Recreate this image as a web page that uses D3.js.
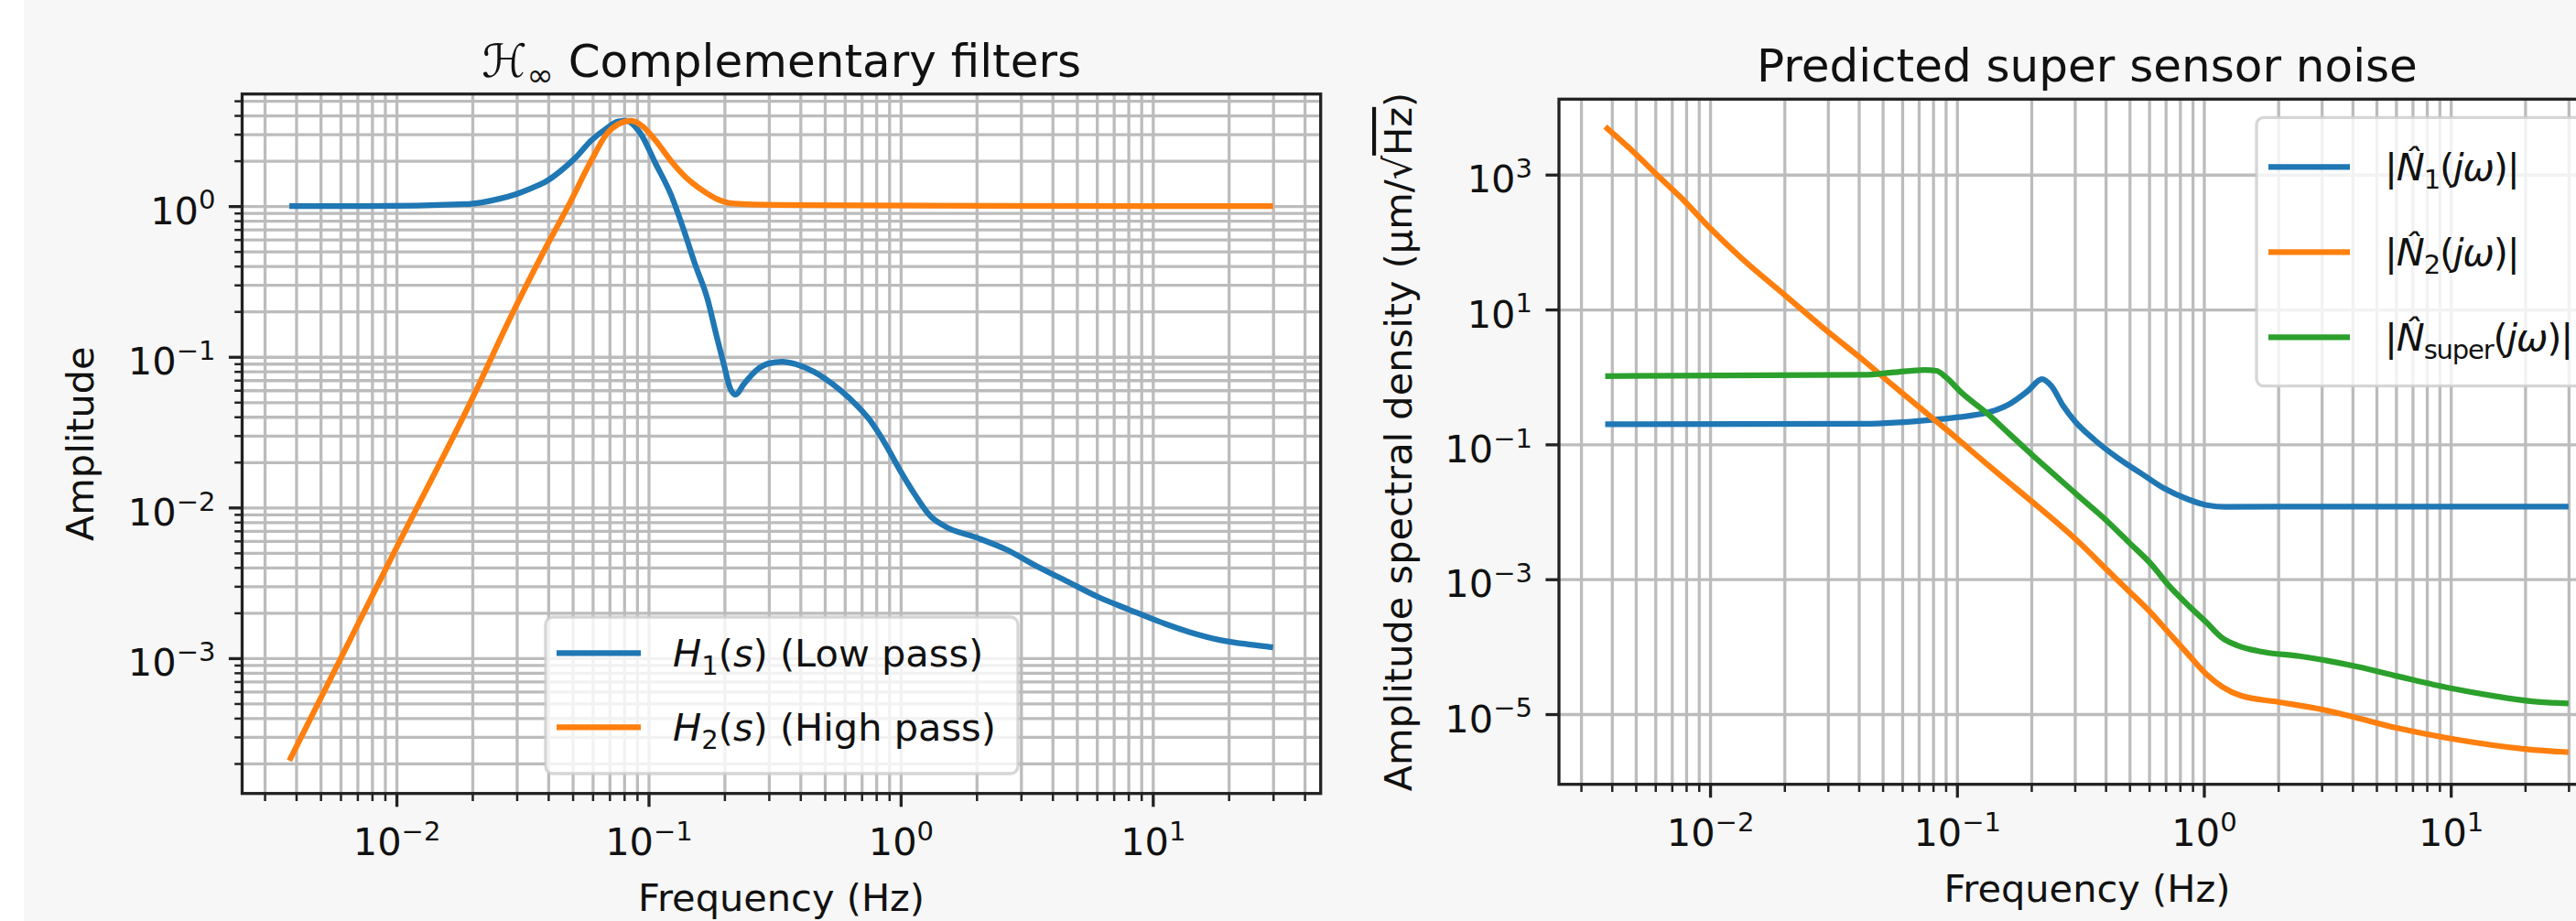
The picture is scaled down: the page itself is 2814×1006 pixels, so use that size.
<!DOCTYPE html>
<html>
<head>
<meta charset="utf-8">
<style>
  body { margin: 0; background: #ffffff; overflow: hidden; }
  svg { display: block; }
  text { font-family: "DejaVu Sans", sans-serif; }
</style>
</head>
<body>
<script src="https://d3js.org/d3.v7.min.js"></script>
<script>
// values (Hz / amplitude)
const FREQ_H1 = [0.00376, 0.00755, 0.0194, 0.0256, 0.0297, 0.0348, 0.0389, 0.0448, 0.0515, 0.0592, 0.0681, 0.0760, 0.0815, 0.0927, 0.1067, 0.1225, 0.1371, 0.1531, 0.171, 0.1858, 0.1995, 0.2109, 0.2213, 0.2388, 0.2673, 0.2985, 0.3388, 0.3837, 0.4539, 0.537, 0.634, 0.750, 0.861, 0.991, 1.138, 1.309, 1.503, 1.986, 2.624, 3.467, 4.592, 6.067, 8.0, 10.59, 14.0, 18.5, 24.4, 30];
const AMP_H1 = [1.0, 1.0, 1.033, 1.119, 1.199, 1.330, 1.445, 1.710, 2.109, 2.723, 3.281, 3.656, 3.690, 3.055, 1.914, 1.199, 0.716, 0.409, 0.244, 0.139, 0.0873, 0.0614, 0.0560, 0.0659, 0.0813, 0.0902, 0.0927, 0.0893, 0.0794, 0.0659, 0.0521, 0.0385, 0.0271, 0.0178, 0.0122, 0.00881, 0.00748, 0.00634, 0.00526, 0.00407, 0.00322, 0.00255, 0.00211, 0.00175, 0.00149, 0.00132, 0.00123, 0.00118];

const FREQ_H2 = [0.00376, 0.006, 0.01, 0.02, 0.0291, 0.0384, 0.048, 0.0592, 0.0681, 0.076, 0.0853, 0.0953, 0.1067, 0.1225, 0.1406, 0.1618, 0.1858, 0.2138, 0.246, 0.4295, 2.415, 30];
const AMP_H2 = [0.000209, 0.00099, 0.0054, 0.053, 0.2, 0.5, 1.0, 2.0, 3.0, 3.5, 3.69, 3.357, 2.723, 2.004, 1.552, 1.288, 1.119, 1.042, 1.028, 1.015, 1.005, 1.0];

const FREQ_N1 = [0.00376, 0.0417, 0.0809, 0.098, 0.113, 0.1355, 0.1622, 0.1941, 0.2208, 0.2415, 0.2692, 0.300, 0.3589, 0.4467, 0.5546, 0.6887, 0.855, 1.026, 1.227, 2.037, 30];
const AMP_N1 = [0.199, 0.2023, 0.2328, 0.250, 0.2661, 0.302, 0.3917, 0.6252, 0.93, 0.7311, 0.3724, 0.2208, 0.1183, 0.0632, 0.0375, 0.02234, 0.01549, 0.01256, 0.0118, 0.0119, 0.0119];

const FREQ_N2 = [0.00376, 0.00493, 0.00608, 0.00757, 0.01007, 0.01337, 0.02028, 0.03141, 0.0417, 0.05546, 0.0809, 0.098, 0.113, 0.173, 0.2014, 0.3055, 0.4083, 0.5012, 0.6138, 0.7145, 0.855, 1.026, 1.186, 1.419, 2.0, 3.013, 4.055, 6.039, 10, 20.28, 30];
const AMP_N2 = [5140, 2118, 1000, 467.7, 156.7, 58.21, 15.85, 4.083, 1.778, 0.7311, 0.2328, 0.1309, 0.0832, 0.0224, 0.01413, 0.003793, 0.00134, 0.000646, 0.000311, 0.0001667, 8.035e-5, 3.873e-5, 2.553e-5, 1.866e-5, 1.514e-5, 1.17e-5, 9.016e-6, 6.252e-6, 4.335e-6, 3.02e-6, 2.716e-6];

const FREQ_NS = [0.00376, 0.0417, 0.05546, 0.0738, 0.0826, 0.0900, 0.1038, 0.1327, 0.1622, 0.2014, 0.3055, 0.4083, 0.5012, 0.6138, 0.7145, 0.855, 1.026, 1.186, 1.368, 1.702, 2.443, 4.198, 6.039, 10, 14.89, 21.38, 30];
const AMP_NS = [1.030, 1.076, 1.169, 1.271, 1.233, 1.0, 0.5943, 0.2864, 0.1455, 0.07015, 0.01811, 0.0071, 0.00342, 0.00165, 0.000837, 0.000426, 0.0002275, 0.0001352, 0.0001042, 8.453e-5, 7.228e-5, 5.035e-5, 3.681e-5, 2.421e-5, 1.866e-5, 1.549e-5, 1.439e-5];

const FREQ_TICKS = [0.01, 0.1, 1, 10];
const AMP_TICKS_H = [0.001, 0.01, 0.1, 1];
const AMP_TICKS_N = [1e-5, 1e-3, 1e-1, 10, 1000];

const W = 2814, H = 1006;
const FS = 41.5, FS_TITLE = 50;
const INK = '#111', SPINE = '#222', GRID = '#bcbcbc';
const COLORS = ['#1f77b4', '#ff7f0e', '#2ca02c'];

const svg = d3.select('body').append('svg').attr('width', W).attr('height', H);
svg.append('rect').attr('x', 26).attr('width', W - 26).attr('height', H).attr('fill', '#f7f7f7');

// text with sub/superscripts, italics, overline
function richText(sel, tokens, fs) {
  let shift = 0;
  tokens.forEach(([t, k]) => {
    const target = k === 'sub' ? fs * 0.2 : k === 'sup' ? -fs * 0.39 : 0;
    const ts = sel.append('tspan').attr('dy', target - shift).text(t);
    shift = target;
    if (k === 'sub' || k === 'sup') ts.attr('font-size', fs * 0.7);
    if (k === 'i') ts.attr('font-style', 'italic');
    if (k === 'ov') ts.style('text-decoration', 'overline');
  });
}

function sciTokens(d) {
  const e = Math.round(Math.log10(d));
  return [['10', ''], [e < 0 ? '\u2212' + (-e) : String(e), 'sup']];
}

const isDecade = v => Math.abs(Math.log10(v) - Math.round(Math.log10(v))) < 1e-6;

function drawPanel(p) {
  const x = d3.scaleLog().domain(p.xDomain).range([p.left, p.right]);
  const y = d3.scaleLog().domain(p.yDomain).range([p.bottom, p.top]);
  const w = p.right - p.left, h = p.bottom - p.top;

  const xAll = x.ticks();
  const xMinor = xAll.filter(v => !isDecade(v));
  const yGrid = p.minorY ? y.ticks() : p.yTicks;
  const yMinor = p.minorY ? yGrid.filter(v => !isDecade(v)) : [];

  svg.append('rect').attr('x', p.left).attr('y', p.top).attr('width', w).attr('height', h).attr('fill', '#fff');

  // grid
  const gx = svg.append('g').attr('transform', `translate(0,${p.bottom})`)
    .call(d3.axisBottom(x).tickValues(xAll).tickSize(-h).tickFormat(''));
  const gy = svg.append('g').attr('transform', `translate(${p.left},0)`)
    .call(d3.axisLeft(y).tickValues(yGrid).tickSize(-w).tickFormat(''));
  [gx, gy].forEach(g => {
    g.select('.domain').remove();
    g.selectAll('text').remove();
    g.selectAll('line').attr('stroke', GRID).attr('stroke-width', 3.3);
  });

  // curves
  svg.append('clipPath').attr('id', 'clip-' + p.id).append('rect')
    .attr('x', p.left).attr('y', p.top).attr('width', w).attr('height', h);
  const line = d3.line().x(d => x(d[0])).y(d => y(d[1])).curve(d3.curveMonotoneX);
  p.series.forEach((s, i) => {
    svg.append('path').attr('d', line(d3.zip(s[0], s[1])))
      .attr('fill', 'none').attr('stroke', COLORS[i]).attr('stroke-width', 6.25)
      .attr('stroke-linejoin', 'round').attr('clip-path', `url(#clip-${p.id})`);
  });

  // spines
  svg.append('rect').attr('x', p.left).attr('y', p.top).attr('width', w).attr('height', h)
    .attr('fill', 'none').attr('stroke', SPINE).attr('stroke-width', 3.3);

  // ticks
  const tickStyle = (g, sw) => {
    g.select('.domain').remove();
    g.selectAll('line').attr('stroke', SPINE).attr('stroke-width', sw);
  };
  const xMin = svg.append('g').attr('transform', `translate(0,${p.bottom})`)
    .call(d3.axisBottom(x).tickValues(xMinor).tickSize(8.3).tickFormat(''));
  tickStyle(xMin, 2.5); xMin.selectAll('text').remove();
  if (yMinor.length) {
    const yMin = svg.append('g').attr('transform', `translate(${p.left},0)`)
      .call(d3.axisLeft(y).tickValues(yMinor).tickSize(8.3).tickFormat(''));
    tickStyle(yMin, 2.5); yMin.selectAll('text').remove();
  }
  const xMaj = svg.append('g').attr('transform', `translate(0,${p.bottom})`)
    .call(d3.axisBottom(x).tickValues(FREQ_TICKS).tickSize(14.6).tickFormat(''));
  tickStyle(xMaj, 3.3);
  xMaj.selectAll('.tick text').each(function(d) {
    const t = d3.select(this).text(null).attr('y', 67).attr('dy', null)
      .attr('text-anchor', 'middle').attr('font-size', FS).attr('fill', INK);
    richText(t, sciTokens(d), FS);
  });
  const yMaj = svg.append('g').attr('transform', `translate(${p.left},0)`)
    .call(d3.axisLeft(y).tickValues(p.yTicks).tickSize(14.6).tickFormat(''));
  tickStyle(yMaj, 3.3);
  yMaj.selectAll('.tick text').each(function(d) {
    const t = d3.select(this).text(null).attr('x', -29).attr('y', 19).attr('dy', null)
      .attr('text-anchor', 'end').attr('font-size', FS).attr('fill', INK);
    richText(t, sciTokens(d), FS);
  });

  // labels
  const cx = (p.left + p.right) / 2, cy = (p.top + p.bottom) / 2;
  const title = svg.append('text').attr('x', cx).attr('y', p.top - 19)
    .attr('text-anchor', 'middle').attr('font-size', FS_TITLE).attr('fill', INK);
  richText(title, p.title, FS_TITLE);
  svg.append('text').attr('x', cx).attr('y', p.bottom + 128)
    .attr('text-anchor', 'middle').attr('font-size', FS).attr('fill', INK)
    .text('Frequency (Hz)');
  const yl = svg.append('text').attr('transform', `translate(${p.ylabelX},${cy}) rotate(-90)`)
    .attr('text-anchor', 'middle').attr('font-size', FS).attr('fill', INK);
  richText(yl, p.ylabel, FS);

  // legend
  const L = p.legend;
  svg.append('rect').attr('x', L.x).attr('y', L.y).attr('width', L.w).attr('height', L.h).attr('rx', 8)
    .attr('fill', '#fff').attr('fill-opacity', 0.8)
    .attr('stroke', '#cccccc').attr('stroke-opacity', 0.8).attr('stroke-width', 3.3);
  L.items.forEach((tokens, i) => {
    const yy = L.rows[i];
    svg.append('line').attr('x1', L.x0).attr('x2', L.x1).attr('y1', yy).attr('y2', yy)
      .attr('stroke', COLORS[i]).attr('stroke-width', 6.25);
    const t = svg.append('text').attr('x', L.tx).attr('y', yy + 15)
      .attr('font-size', FS).attr('fill', INK).attr('letter-spacing', L.ls || 0);
    richText(t, tokens, FS);
  });
}

drawPanel({
  id: 'h', left: 264.5, right: 1442.7, top: 102.7, bottom: 866.7,
  xDomain: [0.002443, 46.34], yDomain: [1.265e-4, 5.546],
  yTicks: AMP_TICKS_H, minorY: true,
  series: [[FREQ_H1, AMP_H1], [FREQ_H2, AMP_H2]],
  title: [['\u210B', ''], ['\u221E', 'sub'], ['\u00A0Complementary filters', '']],
  ylabel: [['Amplitude', '']], ylabelX: 102,
  legend: {
    x: 596, y: 674, w: 516, h: 171, x0: 608, x1: 700, tx: 735, rows: [713.3, 794.3],
    items: [
      [['H', 'i'], ['1', 'sub'], ['(', ''], ['s', 'i'], [')', ''], ['\u00A0(Low pass)', '']],
      [['H', 'i'], ['2', 'sub'], ['(', ''], ['s', 'i'], [')', ''], ['\u00A0(High pass)', '']]
    ]
  }
});

drawPanel({
  id: 'n', left: 1703, right: 2856.8, top: 108.3, bottom: 856.7,
  xDomain: [0.002443, 46.34], yDomain: [9.10e-7, 13152],
  yTicks: AMP_TICKS_N, minorY: false,
  series: [[FREQ_N1, AMP_N1], [FREQ_N2, AMP_N2], [FREQ_NS, AMP_NS]],
  title: [['Predicted super sensor noise', '']],
  ylabel: [['Amplitude spectral density (\u03BCm/\u221A', ''], ['Hz', 'ov'], [')', '']], ylabelX: 1542,
  legend: {
    x: 2465, y: 128.3, w: 420, h: 293.4, x0: 2478, x1: 2567, tx: 2605, ls: -1.2, rows: [182.3, 275.3, 368.3],
    items: [
      [['|', ''], ['N\u0302', 'i'], ['1', 'sub'], ['(', ''], ['j\u03C9', 'i'], [')', ''], ['|', '']],
      [['|', ''], ['N\u0302', 'i'], ['2', 'sub'], ['(', ''], ['j\u03C9', 'i'], [')', ''], ['|', '']],
      [['|', ''], ['N\u0302', 'i'], ['super', 'sub'], ['(', ''], ['j\u03C9', 'i'], [')', ''], ['|', '']]
    ]
  }
});
</script>
</body>
</html>
